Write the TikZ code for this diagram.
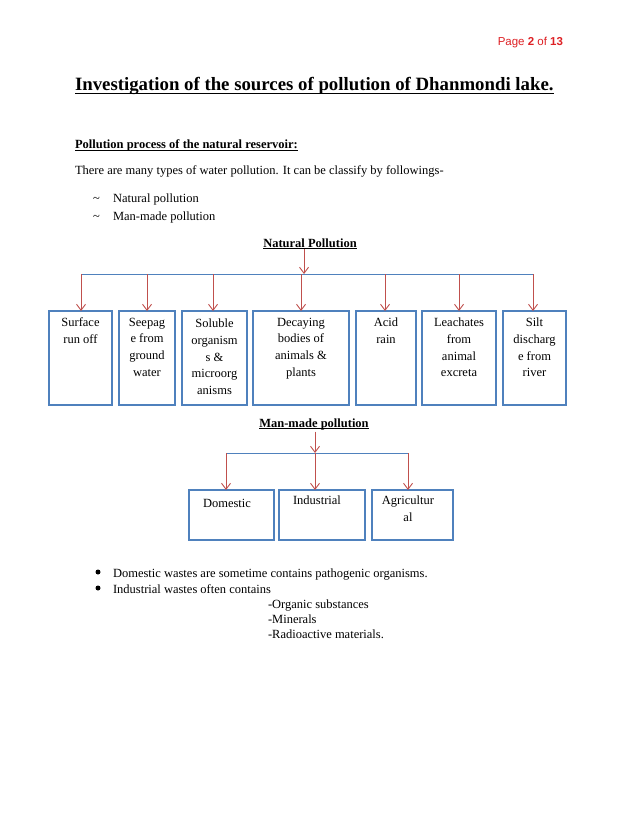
\documentclass[tikz,border=0pt]{standalone}
\usepackage{fontspec}
\setmainfont{Liberation Serif}
\newfontfamily\hdrfont{Liberation Sans}
\usetikzlibrary{arrows.meta}
\definecolor{boxblue}{RGB}{79,129,189}
\definecolor{arrred}{RGB}{192,80,77}
\definecolor{hdrred}{RGB}{222,32,36}
\begin{document}
\begin{tikzpicture}[x=1pt,y=-1pt,
  every node/.style={inner sep=0pt, outer sep=0pt},
  body/.style={font=\fontsize{12.5}{14}\selectfont, anchor=base west},
  bodyb/.style={font=\bfseries\fontsize{12.5}{14}\selectfont},
  boxtxt/.style={font=\fontsize{12.5}{16.7}\selectfont, align=center, anchor=north},
  pbox/.style={draw=boxblue, line width=1.6pt, anchor=north west},
  hline/.style={draw=boxblue, line width=0.9pt},
  uline/.style={line width=0.9pt},
  bul/.style={circle, fill=black, minimum size=5pt},
  arr/.style={draw=arrred, line width=0.9pt, -{Straight Barb[length=6pt,width=9pt]}}]
\useasboundingbox (0,0) rectangle (638,826);
\fill[white] (0,0) rectangle (638,826);

% header
\node[anchor=base east, font=\hdrfont\fontsize{11.5}{13}\selectfont, text=hdrred] (page) at (563,46) {Page \textbf{2} of \textbf{13}};

% title
\node[anchor=base west, font=\bfseries\fontsize{18.8}{22}\selectfont] (title) at (75,91) {Investigation of the sources of pollution of Dhanmondi lake.};
\draw[line width=1.3pt] ([yshift=-2.6pt]title.base west) -- ([yshift=-2.6pt]title.base east);

\node[body, bodyb] (sub) at (75,149) {Pollution process of the natural reservoir:};
\draw[uline] ([yshift=-1.8pt]sub.base west) -- ([yshift=-1.8pt]sub.base east);
\node[body] (intro) at (75,175) {There are many types of water pollution. It can be classify by followings-};
\node[body] (tl1) at (93,203) {\textasciitilde};
\node[body] (li1) at (113,203) {Natural pollution};
\node[body] (tl2) at (93,221) {\textasciitilde};
\node[body] (li2) at (113,221) {Man-made pollution};

% Natural pollution tree
\node[bodyb, anchor=base] (nat) at (310,247) {Natural Pollution};
\draw[uline] ([yshift=-1.8pt]nat.base west) -- ([yshift=-1.8pt]nat.base east);

\node[pbox, minimum width=63, minimum height=94] (b1) at (49,311) {};
\node[pbox, minimum width=56, minimum height=94] (b2) at (119,311) {};
\node[pbox, minimum width=65, minimum height=94] (b3) at (182,311) {};
\node[pbox, minimum width=96, minimum height=94] (b4) at (253,311) {};
\node[pbox, minimum width=60, minimum height=94] (b5) at (356,311) {};
\node[pbox, minimum width=74, minimum height=94] (b6) at (422,311) {};
\node[pbox, minimum width=63, minimum height=94] (b7) at (503,311) {};

\node[boxtxt] (x1) at (80.5,318) {Surface\\run off};
\node[boxtxt] (x2) at (147,318) {Seepag\\e from\\ground\\water};
\node[boxtxt] (x3) at (214.5,319) {Soluble\\organism\\s \&\\microorg\\anisms};
\node[boxtxt] (x4) at (301,318) {Decaying\\bodies of\\animals \&\\plants};
\node[boxtxt] (x5) at (386,318) {Acid\\rain};
\node[boxtxt] (x6) at (459,318) {Leachates\\from\\animal\\excreta};
\node[boxtxt] (x7) at (534.5,318) {Silt\\discharg\\e from\\river};

\coordinate (a1) at (81,274);
\coordinate (a2) at (147,274);
\coordinate (a3) at (213,274);
\coordinate (a4) at (301,274);
\coordinate (a5) at (385,274);
\coordinate (a6) at (459,274);
\coordinate (a7) at (533,274);
\coordinate (nj) at (304,274);
\draw[hline] (a1) -- (a7);
\draw[arr] (nj |- nat.south) ++(0,2) -- (nj);
\draw[arr] (a1) -- (a1 |- b1.north);
\draw[arr] (a2) -- (a2 |- b2.north);
\draw[arr] (a3) -- (a3 |- b3.north);
\draw[arr] (a4) -- (a4 |- b4.north);
\draw[arr] (a5) -- (a5 |- b5.north);
\draw[arr] (a6) -- (a6 |- b6.north);
\draw[arr] (a7) -- (a7 |- b7.north);

% Man-made pollution tree
\node[bodyb, anchor=base] (man) at (314,427) {Man-made pollution};
\draw[uline] ([yshift=-1.8pt]man.base west) -- ([yshift=-1.8pt]man.base east);

\node[pbox, minimum width=85, minimum height=50] (d1) at (189,490) {};
\node[pbox, minimum width=86, minimum height=50] (d2) at (279,490) {};
\node[pbox, minimum width=81, minimum height=50] (d3) at (372,490) {};
\node[body, anchor=base] (y1) at (227,507) {Domestic};
\node[body, anchor=base] (y2) at (317,504) {Industrial};
\node[boxtxt] (y3) at (408,496) {Agricultur\\al};

\coordinate (m1) at (226,453);
\coordinate (m2) at (315,453);
\coordinate (m3) at (408,453);
\draw[hline] (m1) -- (m3);
\draw[arr] (m2 |- man.south) ++(0,2) -- (m2);
\draw[arr] (m1) -- (m1 |- d1.north);
\draw[arr] (m2) -- (m2 |- d2.north);
\draw[arr] (m3) -- (m3 |- d3.north);

% bullets
\node[bul] (bu1) at (98,572) {};
\node[body] (bt1) at (113,577) {Domestic wastes are sometime contains pathogenic organisms.};
\node[bul] (bu2) at (98,588) {};
\node[body] (bt2) at (113,593) {Industrial wastes often contains};
\node[body] (s1) at (268,608) {-Organic substances};
\node[body] (s2) at (268,623) {-Minerals};
\node[body] (s3) at (268,638) {-Radioactive materials.};
\end{tikzpicture}
\end{document}
